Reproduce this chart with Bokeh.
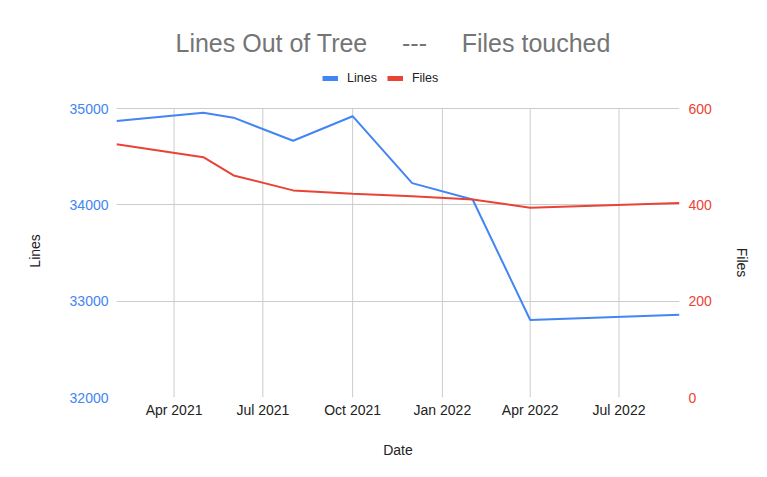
import pandas as pd
from bokeh.plotting import figure
from bokeh.models import (Range1d, LinearAxis, FixedTicker, DatetimeTickFormatter,
                          Legend, LegendItem, ColumnDataSource)
from bokeh.embed import file_html
from bokeh.resources import INLINE

# ---- data ----
dates = ["2021-02-01", "2021-05-01", "2021-06-01", "2021-08-01", "2021-10-01",
         "2021-12-01", "2022-02-01", "2022-04-01", "2022-09-01"]
lines_values = [34870, 34955, 34905, 34665, 34920, 34225, 34055, 32805, 32860]
files_values = [526, 499, 461, 430, 423, 418, 411, 394, 404]
x_tick_dates = ["2021-04-01", "2021-07-01", "2021-10-01", "2022-01-01",
                "2022-04-01", "2022-07-01"]
lines_ticks = [32000, 33000, 34000, 35000]
files_ticks = [0, 200, 400, 600]
title_text = "Lines Out of Tree\u00a0\u00a0\u00a0\u00a0\u00a0---\u00a0\u00a0\u00a0\u00a0\u00a0Files touched"

FONT = "Liberation Sans"
BLUE = "#4285f4"
RED = "#ea4335"
GRID = "#cccccc"
TEXT = "#222222"
NB = "\u00a0"

# layout (pixels)
W, H = 767, 477
LEFT, RIGHT, BOTTOM = 116, 88, 80
FRAME_TOP = 61          # frame starts here so the legend can sit inside it
DATA_TOP = 108          # where the 35000 / 600 gridline sits
data_h = H - BOTTOM - DATA_TOP
pad_px = DATA_TOP - FRAME_TOP

x = pd.to_datetime(dates)
src = ColumnDataSource(dict(date=x, lines=lines_values, files=files_values))

l0, l1 = lines_ticks[0], lines_ticks[-1]
f0, f1 = files_ticks[0], files_ticks[-1]
l_top = l1 + pad_px * (l1 - l0) / data_h
f_top = f1 + pad_px * (f1 - f0) / data_h

p = figure(width=W, height=H, x_axis_type="datetime", output_backend="svg",
           toolbar_location=None, title=title_text,
           x_range=Range1d(x[0], x[-1]), y_range=Range1d(l0, l_top),
           min_border_left=LEFT, min_border_right=RIGHT, min_border_top=FRAME_TOP,
           min_border_bottom=BOTTOM)
p.extra_y_ranges = {"files": Range1d(f0, f_top)}
p.outline_line_color = None

# title
p.title.align = "left"
p.title.offset = 59
p.title.text_font = FONT
p.title.text_font_size = "25px"
p.title.text_font_style = "normal"
p.title.text_color = "#757575"

# x axis
xt = [pd.Timestamp(d).value // 10**6 for d in x_tick_dates]
xa = p.xaxis[0]
xa.ticker = FixedTicker(ticks=xt)
fmt = "%b %Y"
xa.formatter = DatetimeTickFormatter(milliseconds=fmt, seconds=fmt, minsec=fmt, minutes=fmt,
                                     hourmin=fmt, hours=fmt, days=fmt, months=fmt, years=fmt)
xa.axis_label = "Date"

# left axis (no-break spaces keep the label centred on the data area)
ya = p.yaxis[0]
ya.ticker = FixedTicker(ticks=lines_ticks)
ya.bounds = (l0, l1)
ya.axis_label = "Lines" + NB * 11
ya.major_label_text_color = BLUE

# right axis (reads top-to-bottom, so the padding goes first)
ra = LinearAxis(y_range_name="files", ticker=FixedTicker(ticks=files_ticks),
                bounds=(f0, f1), axis_label=NB * 17 + "Files")
ra.major_label_text_color = RED
p.add_layout(ra, "right")

for ax in (xa, ya, ra):
    ax.axis_line_color = None
    ax.major_tick_line_color = None
    ax.minor_tick_line_color = None
    ax.major_tick_out = 0
    ax.major_tick_in = 0
    ax.major_label_text_font = FONT
    ax.major_label_text_font_size = "14px"
    ax.axis_label_text_font = FONT
    ax.axis_label_text_font_size = "14px"
    ax.axis_label_text_font_style = "normal"
    ax.axis_label_text_color = TEXT
xa.major_label_text_color = TEXT
xa.major_label_standoff = 4
xa.axis_label_standoff = 21
ya.major_label_standoff = 8
ya.axis_label_standoff = 24
ra.major_label_standoff = 9
ra.axis_label_standoff = 19

# grid: horizontal from the axis ticks, vertical ones only over the data area
p.xgrid.grid_line_color = None
p.ygrid.grid_line_color = GRID
p.ygrid.grid_line_width = 1
p.segment(x0=xt, y0=[l0] * len(xt), x1=xt, y1=[l1] * len(xt),
          line_color=GRID, line_width=1)

# lines
r_lines = p.line("date", "lines", source=src, line_color=BLUE, line_width=2)
r_files = p.line("date", "files", source=src, line_color=RED, line_width=2, y_range_name="files")

# hidden thick copies, used only for the legend keys
k_lines = p.line("date", "lines", source=src, line_color=BLUE, line_width=5, visible=False)
k_files = p.line("date", "files", source=src, line_color=RED, line_width=5,
                 y_range_name="files", visible=False)

legend = Legend(items=[LegendItem(label="Lines", renderers=[k_lines]),
                       LegendItem(label="Files", renderers=[k_files])],
                orientation="horizontal", location=(206, 312),
                glyph_width=16, glyph_height=14, label_standoff=9, spacing=10,
                padding=0, margin=0, border_line_color=None, background_fill_alpha=0,
                inactive_fill_alpha=0,
                label_text_font=FONT, label_text_font_size="12.5px",
                label_text_color=TEXT)
p.add_layout(legend, "center")

open("out.html", "w").write(file_html(p, INLINE))
